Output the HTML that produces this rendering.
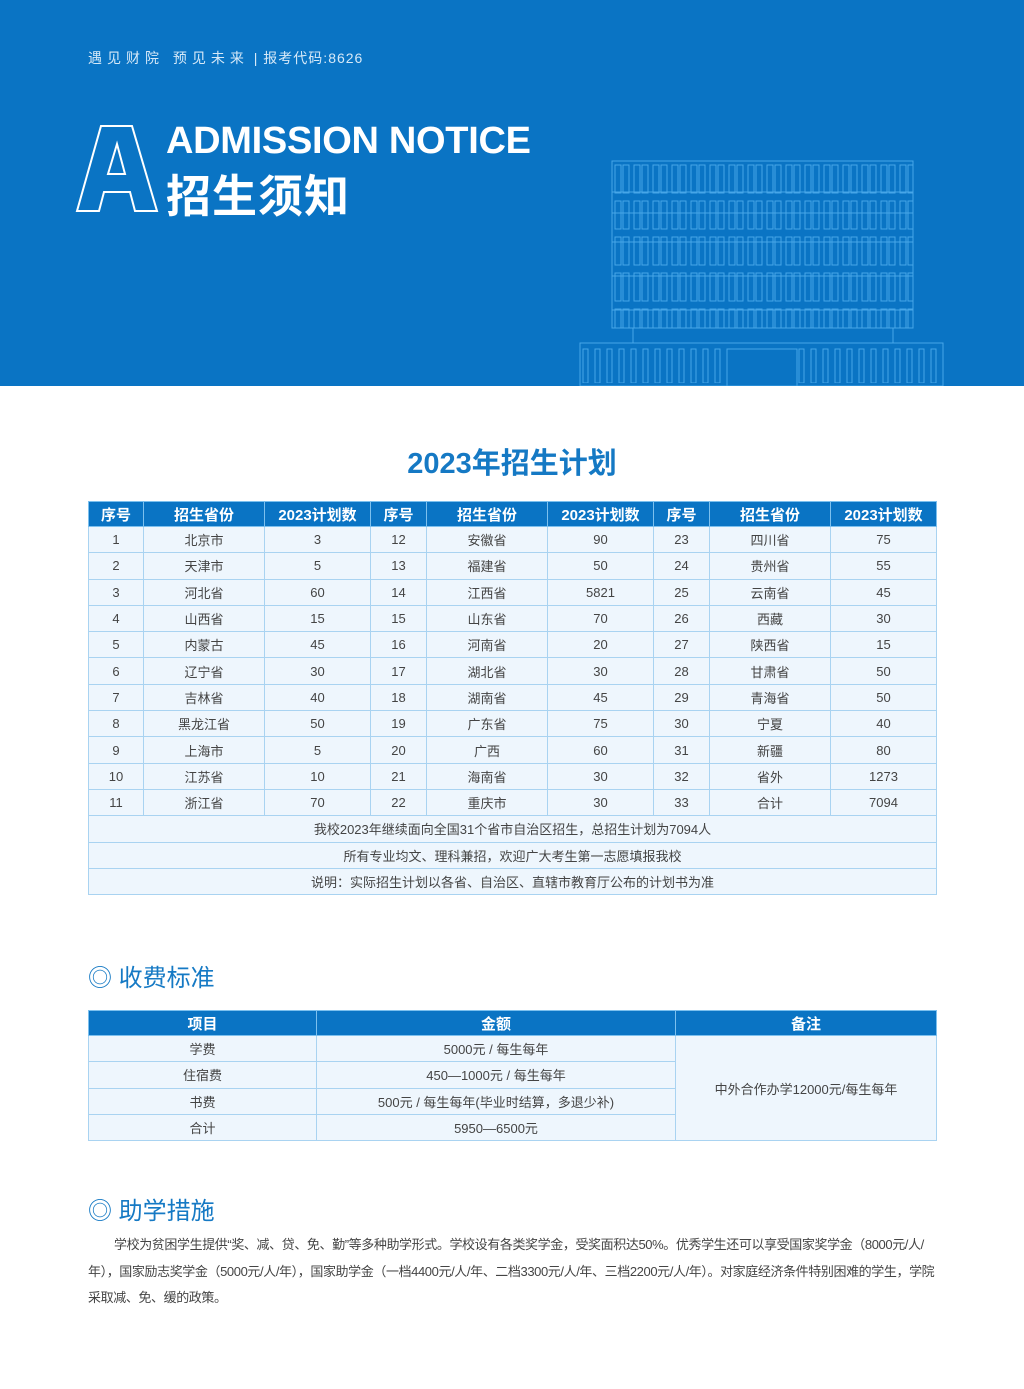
<!DOCTYPE html>
<html><head><meta charset="utf-8"><style>
*{margin:0;padding:0;box-sizing:border-box}
body{width:1024px;height:1389px;background:#fff;font-family:"Liberation Sans","Noto Sans CJK SC",sans-serif;position:relative;overflow:hidden;color:#444}
.hero{position:absolute;left:0;top:0;width:1024px;height:386px;background:#0a74c4}
.abs{position:absolute}
table{border-collapse:collapse;table-layout:fixed;position:absolute;left:88px;width:848px}
td,th{border:1px solid #a9d3f1;text-align:center;font-size:13px;color:#444;background:#eef6fd;font-weight:normal;padding:0;white-space:nowrap}
th{background:#0a74c4;color:#fff;font-size:15px;font-weight:bold;border-color:#7cc0ee}
h3{position:absolute;left:88px;font-size:24px;color:#1579c4;font-weight:normal}
</style></head><body>
<div class="hero">
<div class="abs" style="left:88px;top:48px;color:#d6e9f8;font-size:14px;letter-spacing:1px"><span style="letter-spacing:5px">遇见财院 预见未来</span> | 报考代码:8626</div>
<svg class="abs" style="left:74px;top:124px" width="86" height="90"><path d="M27 2 H58 L83 87 H61 L56 68 H30 L25 87 H3 Z M34 50 H51 L43 20 Z" fill="none" stroke="#fff" stroke-width="2"/></svg>
<div class="abs" style="left:166px;top:120px;color:#fff;font-size:38px;font-weight:bold;letter-spacing:-0.3px">ADMISSION NOTICE</div>
<div class="abs" style="left:166px;top:160px;color:#fff;font-size:45px;font-weight:bold;letter-spacing:1px">招生须知</div>
<svg class="abs" style="left:0;top:0" width="1024" height="386">
<defs>
<pattern id="w" width="19" height="36" patternUnits="userSpaceOnUse" x="612" y="161"><rect x="3" y="4" width="6" height="28" fill="none" stroke="#47a6e8" stroke-width="1"/><rect x="11" y="4" width="6" height="28" fill="none" stroke="#47a6e8" stroke-width="1"/></pattern>
<pattern id="p" width="12" height="40" patternUnits="userSpaceOnUse" x="580" y="343"><rect x="3" y="6" width="5" height="34" fill="none" stroke="#47a6e8" stroke-width="1"/></pattern>
</defs>
<g fill="none" stroke="#47a6e8" stroke-width="1">
<rect x="612" y="161" width="301" height="167" fill="url(#w)"/>
<line x1="612" y1="192" x2="913" y2="192"/><line x1="612" y1="213" x2="913" y2="213"/><line x1="612" y1="242" x2="913" y2="242"/><line x1="612" y1="276" x2="913" y2="276"/><line x1="612" y1="310" x2="913" y2="310"/>
<rect x="633" y="328" width="260" height="15"/>
<rect x="580" y="343" width="363" height="43" fill="url(#p)"/>
<rect x="727" y="349" width="70" height="37" fill="#0a74c4"/>
</g></svg>
</div>
<div class="abs" style="left:0;width:1024px;top:440px;text-align:center;font-size:29px;font-weight:bold;color:#1579c4">2023年招生计划</div>
<table style="top:501px">
<colgroup><col style="width:55px"><col style="width:121px"><col style="width:106px"><col style="width:56px"><col style="width:121px"><col style="width:106px"><col style="width:56px"><col style="width:121px"><col style="width:106px"></colgroup>
<tr style="height:25px"><th>序号</th><th>招生省份</th><th>2023计划数</th><th>序号</th><th>招生省份</th><th>2023计划数</th><th>序号</th><th>招生省份</th><th>2023计划数</th></tr>
<tr style="height:26.3px"><td>1</td><td>北京市</td><td>3</td><td>12</td><td>安徽省</td><td>90</td><td>23</td><td>四川省</td><td>75</td></tr>
<tr style="height:26.3px"><td>2</td><td>天津市</td><td>5</td><td>13</td><td>福建省</td><td>50</td><td>24</td><td>贵州省</td><td>55</td></tr>
<tr style="height:26.3px"><td>3</td><td>河北省</td><td>60</td><td>14</td><td>江西省</td><td>5821</td><td>25</td><td>云南省</td><td>45</td></tr>
<tr style="height:26.3px"><td>4</td><td>山西省</td><td>15</td><td>15</td><td>山东省</td><td>70</td><td>26</td><td>西藏</td><td>30</td></tr>
<tr style="height:26.3px"><td>5</td><td>内蒙古</td><td>45</td><td>16</td><td>河南省</td><td>20</td><td>27</td><td>陕西省</td><td>15</td></tr>
<tr style="height:26.3px"><td>6</td><td>辽宁省</td><td>30</td><td>17</td><td>湖北省</td><td>30</td><td>28</td><td>甘肃省</td><td>50</td></tr>
<tr style="height:26.3px"><td>7</td><td>吉林省</td><td>40</td><td>18</td><td>湖南省</td><td>45</td><td>29</td><td>青海省</td><td>50</td></tr>
<tr style="height:26.3px"><td>8</td><td>黑龙江省</td><td>50</td><td>19</td><td>广东省</td><td>75</td><td>30</td><td>宁夏</td><td>40</td></tr>
<tr style="height:26.3px"><td>9</td><td>上海市</td><td>5</td><td>20</td><td>广西</td><td>60</td><td>31</td><td>新疆</td><td>80</td></tr>
<tr style="height:26.3px"><td>10</td><td>江苏省</td><td>10</td><td>21</td><td>海南省</td><td>30</td><td>32</td><td>省外</td><td>1273</td></tr>
<tr style="height:26.3px"><td>11</td><td>浙江省</td><td>70</td><td>22</td><td>重庆市</td><td>30</td><td>33</td><td>合计</td><td>7094</td></tr>
<tr style="height:26.3px"><td colspan="9">我校2023年继续面向全国31个省市自治区招生，总招生计划为7094人</td></tr>
<tr style="height:26.3px"><td colspan="9">所有专业均文、理科兼招，欢迎广大考生第一志愿填报我校</td></tr>
<tr style="height:26.3px"><td colspan="9">说明：实际招生计划以各省、自治区、直辖市教育厅公布的计划书为准</td></tr>
</table>
<h3 style="top:958px">◎ 收费标准</h3>
<table style="top:1010px">
<colgroup><col style="width:228px"><col style="width:359px"><col style="width:261px"></colgroup>
<tr style="height:25px"><th>项目</th><th>金额</th><th>备注</th></tr>
<tr style="height:26.3px"><td>学费</td><td>5000元 / 每生每年</td><td rowspan="4">中外合作办学12000元/每生每年</td></tr>
<tr style="height:26.3px"><td>住宿费</td><td>450—1000元 / 每生每年</td></tr>
<tr style="height:26.3px"><td>书费</td><td>500元 / 每生每年(毕业时结算，多退少补)</td></tr>
<tr style="height:26.3px"><td>合计</td><td>5950—6500元</td></tr>
</table>
<h3 style="top:1191px">◎ 助学措施</h3>
<div class="abs" style="left:88px;top:1232px;width:852px;font-size:13px;line-height:26.5px;text-indent:26px;color:#444;letter-spacing:-0.4px">学校为贫困学生提供“奖、减、贷、免、勤”等多种助学形式。学校设有各类奖学金，受奖面积达50%。优秀学生还可以享受国家奖学金（8000元/人/年），国家励志奖学金（5000元/人/年），国家助学金（一档4400元/人/年、二档3300元/人/年、三档2200元/人/年）。对家庭经济条件特别困难的学生，学院采取减、免、缓的政策。</div>
</body></html>
